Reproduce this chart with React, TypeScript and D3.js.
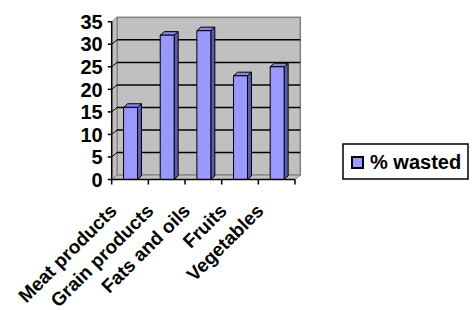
import React from "react";
import * as d3 from "d3";

const categories = ["Meat products", "Grain products", "Fats and oils", "Fruits", "Vegetables"];
const wasted = [16, 32, 33, 23, 25];
const yTicks = [0, 5, 10, 15, 20, 25, 30, 35];
const seriesName = "% wasted";

const W = 473;
const H = 310;
const FONT = "'Liberation Sans', Arial, sans-serif";

export default function App() {
    // front plane of the 3D box
    const x = d3.scaleBand().domain(categories).range([111.7, 295]);
    const y = d3.scaleLinear().domain([0, 35]).range([179.5, 21.7]);
    const dx = 5.3, dy = -4.4; // wall depth
    const bdx = 4, bdy = -3.6; // bar depth
    const barW = x.bandwidth() * 0.38;

    const [x0, x1] = x.range();
    const pts = (a: number[][]) => a.map(p => p.join(",")).join(" ");

    return (
        <svg width={W} height={H} style={{ position: "absolute", left: 0, top: 0 }}>
            <rect width={W} height={H} fill="white" />
            {/* back wall */}
            <rect x={x0 + dx} y={y(35) + dy} width={x1 - x0} height={y(0) - y(35)}
                fill="#c0c0c0" stroke="#808080" strokeWidth={1.5} />
            {/* side wall */}
            <polygon points={pts([[x0, y(0)], [x0, y(35)], [x0 + dx, y(35) + dy], [x0 + dx, y(0) + dy]])}
                fill="#c0c0c0" stroke="#808080" strokeWidth={1} />
            {/* floor */}
            <polygon points={pts([[x0, y(0)], [x1, y(0)], [x1 + dx, y(0) + dy], [x0 + dx, y(0) + dy]])}
                fill="#c0c0c0" stroke="#808080" strokeWidth={1} />
            {/* gridlines */}
            {yTicks.slice(1, -1).map(t => (
                <g key={t}>
                    <line x1={x0 + dx} x2={x1 + dx} y1={y(t) + dy} y2={y(t) + dy} stroke="black" strokeWidth={1.5} />
                    <line x1={x0} x2={x0 + dx} y1={y(t)} y2={y(t) + dy} stroke="black" strokeWidth={1} />
                </g>
            ))}
            {/* bars */}
            {categories.map((c, i) => {
                const bx = (x(c) as number) + x.bandwidth() / 2 - barW / 2 + 0.5;
                const top = y(wasted[i]);
                const bot = y(0);
                return (
                    <g key={c} stroke="black" strokeWidth={1} strokeLinejoin="round">
                        <polygon points={pts([[bx + barW, bot], [bx + barW, top], [bx + barW + bdx, top + bdy], [bx + barW + bdx, bot + bdy]])}
                            fill="#5c5cab" />
                        <polygon points={pts([[bx, top], [bx + barW, top], [bx + barW + bdx, top + bdy], [bx + bdx, top + bdy]])}
                            fill="#8686e8" />
                        <rect x={bx} y={top} width={barW} height={bot - top} fill="#9999ff" />
                    </g>
                );
            })}
            {/* y axis */}
            <line x1={x0} x2={x0} y1={y(0)} y2={y(35)} stroke="black" strokeWidth={1.5} />
            {yTicks.map(t => (
                <g key={t}>
                    <line x1={x0 - 4} x2={x0} y1={y(t)} y2={y(t)} stroke="black" strokeWidth={1.5} />
                    <text x={x0 - 9} y={y(t)} dy="0.36em" textAnchor="end" fontFamily={FONT}
                        fontWeight="bold" fontSize={20}>{t}</text>
                </g>
            ))}
            {/* x axis */}
            <line x1={x0} x2={x1} y1={y(0)} y2={y(0)} stroke="black" strokeWidth={1.5} />
            {[...categories.map(c => x(c) as number), x1].map((v, i) => (
                <line key={i} x1={v} x2={v} y1={y(0)} y2={y(0) + 5} stroke="black" strokeWidth={1.5} />
            ))}
            {categories.map(c => {
                const cx = (x(c) as number) + x.bandwidth() / 2 - 12;
                const cy = 212;
                return (
                    <text key={c} x={cx} y={cy} textAnchor="end" fontFamily={FONT} fontWeight="bold"
                        fontSize={19} transform={`rotate(-45 ${cx} ${cy})`}>{c}</text>
                );
            })}
            {/* legend */}
            <rect x={343} y={144} width={125} height={35} fill="white" stroke="black" strokeWidth={1.5} />
            <rect x={352} y={157} width={11} height={11} fill="#9999ff" stroke="black" strokeWidth={2} />
            <text x={370} y={169} fontFamily={FONT} fontWeight="bold" fontSize={20}>{seriesName}</text>
        </svg>
    );
}
